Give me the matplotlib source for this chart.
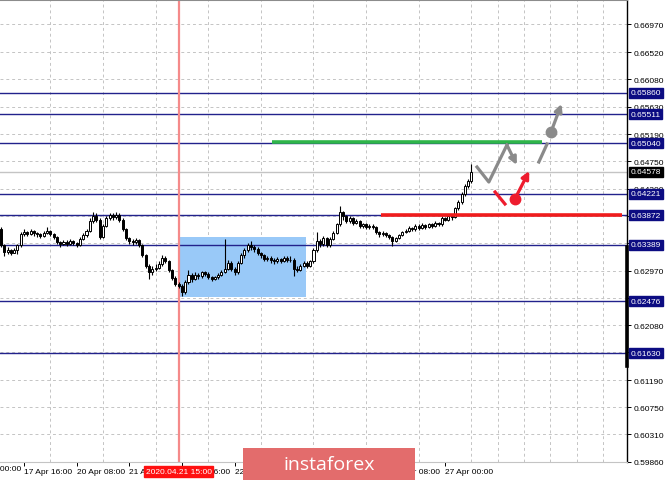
import numpy as np
import matplotlib
matplotlib.use("Agg")
import matplotlib.pyplot as plt
from matplotlib.patches import Rectangle
from matplotlib.ticker import FixedLocator
import matplotlib.transforms as mtransforms

plt.rcParams['font.family'] = ['Liberation Sans', 'DejaVu Sans']

# H1 bars, index 0 = 17 Apr 16:00 (weekend hours skipped)
bar_start = -7
first_open = 0.6365
closes = [0.6338, 0.6328, 0.6330, 0.6326, 0.6331, 0.6338, 0.6357, 0.6360, 0.6357, 0.6361,
          0.6358, 0.6356, 0.6354, 0.6358, 0.6362, 0.6357, 0.6352, 0.6343, 0.6340, 0.6344,
          0.6340, 0.6345, 0.6342, 0.6339, 0.6348, 0.6355, 0.6361, 0.6378, 0.6386, 0.6380,
          0.6352, 0.6370, 0.6382, 0.6387, 0.6384, 0.6388, 0.6380, 0.6365, 0.6350, 0.6345,
          0.6343, 0.6346, 0.6338, 0.6322, 0.6305, 0.6295, 0.6300, 0.6302, 0.6308, 0.6318,
          0.6312, 0.6298, 0.6285, 0.6275, 0.6272, 0.6262, 0.6278, 0.6290, 0.6283, 0.6290,
          0.6288, 0.6294, 0.6292, 0.6286, 0.6283, 0.6286, 0.6290, 0.6295, 0.6300, 0.6310,
          0.6300, 0.6295, 0.6310, 0.6322, 0.6330, 0.6338, 0.6336, 0.6332, 0.6325, 0.6322,
          0.6316, 0.6318, 0.6314, 0.6312, 0.6316, 0.6313, 0.6318, 0.6314, 0.6315, 0.6300,
          0.6298, 0.6305, 0.6310, 0.6305, 0.6312, 0.6330, 0.6345, 0.6340, 0.6350, 0.6338,
          0.6348, 0.6358, 0.6372, 0.6392, 0.6385, 0.6378, 0.6382, 0.6375, 0.6378, 0.6370,
          0.6372, 0.6368, 0.6370, 0.6368, 0.6360, 0.6356, 0.6358, 0.6355, 0.6352, 0.6345,
          0.6350, 0.6355, 0.6360, 0.6362, 0.6366, 0.6365, 0.6370, 0.6366, 0.6371, 0.6368,
          0.6372, 0.6370, 0.6374, 0.6372, 0.6382, 0.6380, 0.6385, 0.6384, 0.6398, 0.6408,
          0.6422, 0.6435, 0.6442, 0.6458]
highs = [0.6368, 0.6340, 0.6335, 0.6332, 0.6334, 0.6340, 0.6360, 0.6364, 0.6362, 0.6365,
         0.6363, 0.6360, 0.6358, 0.6361, 0.6368, 0.6363, 0.6358, 0.6353, 0.6345, 0.6347,
         0.6346, 0.6348, 0.6347, 0.6344, 0.6351, 0.6358, 0.6364, 0.6382, 0.6392, 0.6390,
         0.6383, 0.6373, 0.6385, 0.6391, 0.6390, 0.6392, 0.6390, 0.6382, 0.6367, 0.6352,
         0.6348, 0.6350, 0.6348, 0.6340, 0.6324, 0.6308, 0.6304, 0.6307, 0.6312, 0.6322,
         0.6320, 0.6314, 0.6300, 0.6288, 0.6279, 0.6275, 0.6282, 0.6298, 0.6293, 0.6294,
         0.6293, 0.6297, 0.6297, 0.6294, 0.6289, 0.6289, 0.6293, 0.6298, 0.6348, 0.6314,
         0.6312, 0.6303, 0.6313, 0.6325, 0.6334, 0.6342, 0.6345, 0.6339, 0.6335, 0.6328,
         0.6324, 0.6321, 0.6320, 0.6317, 0.6319, 0.6318, 0.6321, 0.6320, 0.6320, 0.6317,
         0.6304, 0.6308, 0.6313, 0.6312, 0.6314, 0.6333, 0.6360, 0.6348, 0.6353, 0.6352,
         0.6351, 0.6361, 0.6375, 0.6402, 0.6394, 0.6387, 0.6385, 0.6384, 0.6381, 0.6380,
         0.6375, 0.6374, 0.6373, 0.6372, 0.6369, 0.6362, 0.6361, 0.6360, 0.6357, 0.6354,
         0.6352, 0.6357, 0.6362, 0.6365, 0.6369, 0.6368, 0.6373, 0.6372, 0.6374, 0.6373,
         0.6375, 0.6374, 0.6377, 0.6376, 0.6385, 0.6384, 0.6388, 0.6388, 0.6400, 0.6411,
         0.6425, 0.6438, 0.6446, 0.6470]
lows = [0.6335, 0.6321, 0.6324, 0.6322, 0.6325, 0.6324, 0.6336, 0.6354, 0.6353, 0.6355,
        0.6354, 0.6352, 0.6350, 0.6352, 0.6356, 0.6354, 0.6349, 0.6340, 0.6336, 0.6338,
        0.6337, 0.6338, 0.6339, 0.6336, 0.6337, 0.6346, 0.6352, 0.6359, 0.6375, 0.6376,
        0.6348, 0.6350, 0.6368, 0.6379, 0.6380, 0.6381, 0.6376, 0.6362, 0.6347, 0.6341,
        0.6338, 0.6340, 0.6335, 0.6319, 0.6301, 0.6283, 0.6290, 0.6297, 0.6300, 0.6305,
        0.6309, 0.6295, 0.6282, 0.6272, 0.6268, 0.6256, 0.6259, 0.6275, 0.6279, 0.6281,
        0.6284, 0.6285, 0.6288, 0.6283, 0.6280, 0.6281, 0.6284, 0.6288, 0.6293, 0.6298,
        0.6297, 0.6290, 0.6292, 0.6307, 0.6318, 0.6327, 0.6330, 0.6328, 0.6322, 0.6318,
        0.6312, 0.6313, 0.6310, 0.6308, 0.6309, 0.6310, 0.6311, 0.6311, 0.6311, 0.6288,
        0.6294, 0.6296, 0.6303, 0.6302, 0.6303, 0.6310, 0.6328, 0.6336, 0.6337, 0.6335,
        0.6335, 0.6346, 0.6356, 0.6370, 0.6380, 0.6374, 0.6375, 0.6371, 0.6372, 0.6366,
        0.6367, 0.6364, 0.6365, 0.6364, 0.6356, 0.6352, 0.6353, 0.6351, 0.6348, 0.6337,
        0.6343, 0.6348, 0.6353, 0.6358, 0.6360, 0.6361, 0.6362, 0.6363, 0.6364, 0.6365,
        0.6366, 0.6367, 0.6368, 0.6369, 0.6370, 0.6377, 0.6378, 0.6380, 0.6382, 0.6395,
        0.6405, 0.6418, 0.6432, 0.6440]

levels = [0.65860, 0.65511, 0.65040, 0.64221, 0.63872, 0.63389, 0.62476, 0.61630]
current_price = 0.64578
price_ticks = [0.59860, 0.60310, 0.60750, 0.61190, 0.61640, 0.62080, 0.62530, 0.62970,
               0.63420, 0.63860, 0.64300, 0.64750, 0.65190, 0.65630, 0.66080, 0.66520, 0.66970]
hidden_ticks = [0.61640, 0.62530, 0.63420, 0.63860]
time_ticks = [0, 16, 32, 48, 64, 80, 96, 112, 128]
time_labels = ['17 Apr 16:00', '20 Apr 08:00', '21 Apr 00:00', '21 Apr 16:00',
               '22 Apr 08:00', '23 Apr 00:00', '23 Apr 16:00', '24 Apr 08:00', '27 Apr 00:00']
first_label = '17 Apr 00:00'   # tick sits left of the visible window, only its tail shows
marker_bar = 47
marker_label = '2020.04.21 15:00'

# forecast drawings (bar index, price)
box = (47.1, 85.6, 0.62546, 0.63511)
green_line = (75.4, 157.4, 0.65068)
red_line = (108.5, 181.7, 0.63872)
gray_path = ([137.7, 141.3, 146.8], [0.64654, 0.64410, 0.65012])
gray_arrow1 = ((146.8, 0.65012), (149.8, 0.64687))
gray_dash = ([156.5, 159.0], [0.64735, 0.65028])
gray_dot = (160.2, 0.65223)
gray_arrow2 = ((160.2, 0.65223), (163.4, 0.65680))
red_dash = ([143.2, 146.2], [0.64248, 0.64053])
red_dot = (149.2, 0.64134)
red_arrow = ((149.2, 0.64134), (153.6, 0.64590))

W, H = 665, 481
fig = plt.figure(figsize=(W / 100, H / 100), dpi=100)
ax = fig.add_axes([0, 18 / H, 627 / W, 462 / H])

# grid
ax.set_axisbelow(True)
ax.xaxis.set_minor_locator(FixedLocator(np.arange(-16, 190, 8)))
ax.grid(which='minor', axis='x', color='#c4c4c4', linestyle=(0, (3, 3)), linewidth=0.7)
ax.grid(which='major', axis='y', color='#c4c4c4', linestyle=(0, (3, 3)), linewidth=0.7)
ax.tick_params(which='minor', length=0)

ax.add_patch(Rectangle((box[0], box[2]), box[1] - box[0], box[3] - box[2],
                       facecolor='#99c9f8', edgecolor='none', zorder=1))

for lv in levels:
    ax.axhline(lv, color='#22228c', linewidth=1.0, zorder=2)
ax.axhline(current_price, color='#c4c4c4', linewidth=1.0, zorder=2)
ax.axvline(marker_bar, color='#f58a8a', linewidth=1.6, zorder=2)

# candles
idx = np.arange(bar_start, bar_start + len(closes))
c = np.array(closes)
o = np.concatenate([[first_open], c[:-1]])
hi = np.array(highs)
lo = np.array(lows)
ax.vlines(idx, lo, hi, color='black', linewidth=0.8, zorder=3)
up = c >= o
body_lo = np.minimum(o, c)
body_h = np.maximum(np.abs(c - o), 0.00004)
ax.bar(idx[up], body_h[up], bottom=body_lo[up], width=0.62, facecolor='white',
       edgecolor='black', linewidth=0.7, zorder=4)
ax.bar(idx[~up], body_h[~up], bottom=body_lo[~up], width=0.62, facecolor='black',
       edgecolor='black', linewidth=0.7, zorder=4)

# forecast lines
ax.plot([green_line[0], green_line[1]], [green_line[2]] * 2, color='#2fb54a', linewidth=2.6,
        solid_capstyle='butt', zorder=5)
ax.plot([red_line[0], red_line[1]], [red_line[2]] * 2, color='#f01c1c', linewidth=2.6,
        solid_capstyle='butt', zorder=5)
gray = '#8a8a8a'
red = '#ee1c2e'
ax.plot(gray_path[0], gray_path[1], color=gray, linewidth=2.3, zorder=6)
ax.plot(gray_dash[0], gray_dash[1], color=gray, linewidth=2.3, zorder=6)
ax.plot(*gray_dot, 'o', color=gray, markersize=7.5, zorder=7)
ax.plot(red_dash[0], red_dash[1], color=red, linewidth=2.3, zorder=6)
ax.plot(*red_dot, 'o', color=red, markersize=7.5, zorder=7)
for (start, end), col in [(gray_arrow1, gray), (gray_arrow2, gray), (red_arrow, red)]:
    ax.annotate('', xy=end, xytext=start,
                arrowprops=dict(arrowstyle='-|>', color=col, lw=2.3, mutation_scale=11,
                                shrinkA=0, shrinkB=0), zorder=7)

# axes frame
ax.spines['left'].set_visible(False)
ax.spines['top'].set_color('#8c8c8c')
ax.spines['top'].set_linewidth(1.5)
ax.spines['right'].set_color('black')
ax.spines['right'].set_linewidth(1.0)
ax.spines['bottom'].set_color('#c4c4c4')
ax.spines['bottom'].set_linewidth(0.8)

ax.yaxis.tick_right()
ax.set_yticks(price_ticks)
ax.set_yticklabels(['' if v in hidden_ticks else '%.5f' % v for v in price_ticks])
ax.tick_params(axis='y', which='major', direction='out', length=3, width=0.7, pad=2,
               labelsize=6, colors='black')
ax.set_xticks(time_ticks)
ax.set_xticklabels(time_labels)
ax.tick_params(axis='x', which='major', direction='out', length=3, width=0.7, pad=1.5,
               labelsize=6, colors='black')
for lab in ax.get_xticklabels():
    lab.set_horizontalalignment('left')

# limits last: set_xticks would widen them
ax.set_xlim(-7.3, 183.3)
ax.set_ylim(0.5986, 0.67368)

trans_x = mtransforms.blended_transform_factory(ax.transData, ax.transAxes)
ax.text(-15.4, -0.0065, first_label, transform=trans_x, ha='left', va='top', fontsize=6,
        clip_on=False)

# thick black marker on right scale
ax.plot([183.3, 183.3], [0.6142, 0.6335], color='black', linewidth=2.6, clip_on=False, zorder=8)

# price boxes
trans_y = mtransforms.blended_transform_factory(ax.transAxes, ax.transData)
for lv in levels:
    ax.text(1.006, lv, '%.5f' % lv, transform=trans_y, ha='left', va='center', fontsize=6,
            color='white', zorder=10, clip_on=False,
            bbox=dict(boxstyle='square,pad=0.18', facecolor='#0c0c82', edgecolor='#0c0c82'))
ax.text(1.006, current_price, '%.5f' % current_price, transform=trans_y, ha='left',
        va='center', fontsize=6, color='white', zorder=10, clip_on=False,
        bbox=dict(boxstyle='square,pad=0.18', facecolor='black', edgecolor='black'))

# time marker label
ax.text(marker_bar, -0.021, marker_label, transform=trans_x, ha='center', va='center',
        fontsize=6, color='white', zorder=10, clip_on=False,
        bbox=dict(boxstyle='square,pad=0.22', facecolor='#ff1010', edgecolor='#ff1010'))

# banner
fig.patches.append(Rectangle((243 / W, 0), 172 / W, 32 / H, transform=fig.transFigure,
                             facecolor='#e36c6c', edgecolor='none', zorder=20))
fig.text(329 / W, 1 - 465 / H, 'instaforex', ha='center', va='center', color='white',
         fontsize=14, family='Open Sans', zorder=21)

fig.savefig('out.png', dpi=100)
